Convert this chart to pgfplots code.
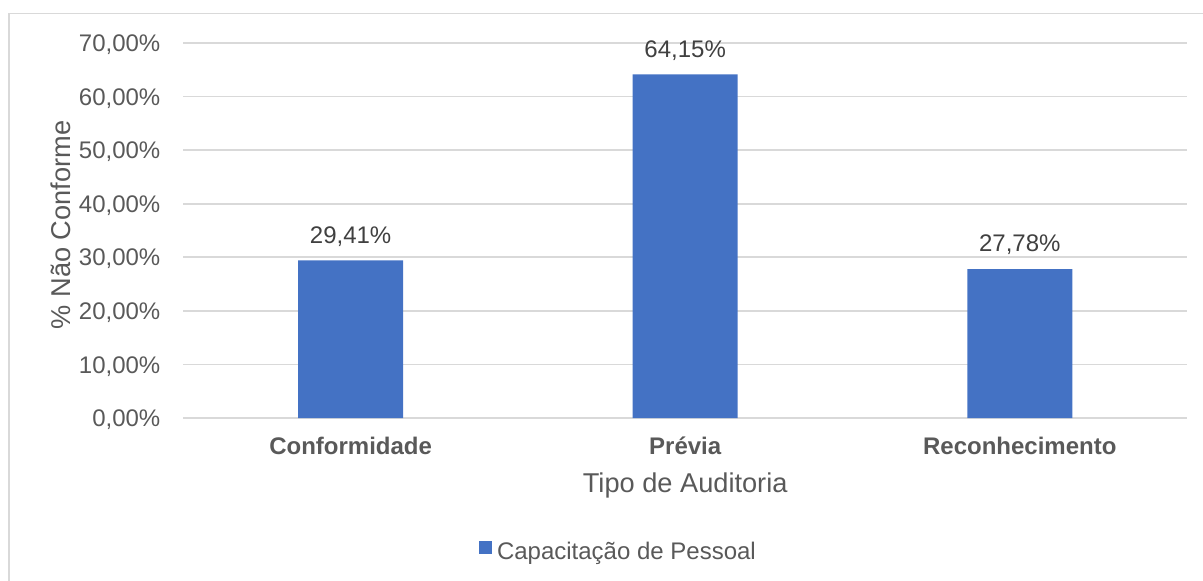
\documentclass[border=0pt]{standalone}
\usepackage{pgfplots}
\pgfplotsset{compat=1.18}
\usepackage{fontspec}
\setmainfont{Liberation Sans}
\definecolor{barblue}{HTML}{4472C4}
\definecolor{gridgray}{HTML}{D9D9D9}
\definecolor{txtgray}{HTML}{595959}
\definecolor{lblgray}{HTML}{404040}

\begin{document}
\begin{tikzpicture}
% chart frame
\draw[gridgray, line width=0.75pt] (4.6pt,283.15pt) rectangle (640pt,-30pt);
\begin{axis}[
  at={(91.67pt,81pt)}, anchor=south west,
  scale only axis, width=501.85pt, height=187.5pt,
  xmin=0, xmax=3, ymin=0, ymax=70,
  xtick={0.5,1.5,2.5},
  xticklabels={Conformidade,Prévia,Reconhecimento},
  ytick={0,10,...,70},
  axis line style={draw=none},
  major tick length=0pt,
  ymajorgrids,
  grid style={gridgray, line width=0.8pt},
  yticklabel={\pgfmathprintnumber[fixed,fixed zerofill,precision=2,use comma,assume math mode=true]{\tick}\%},
  yticklabel style={anchor=base east, inner sep=0pt, xshift=-11.3pt, yshift=-4.3pt,
    font=\fontsize{12pt}{14pt}\selectfont, text=txtgray},
  xticklabel style={anchor=base, inner sep=0pt, yshift=-18pt,
    font=\fontsize{12pt}{14pt}\selectfont\bfseries, text=txtgray},
  ylabel={\% Não Conforme},
  ylabel style={at={(axis description cs:-0.1129,0.5147)}, anchor=base, inner sep=0pt,
    font=\fontsize{13.6pt}{16pt}\selectfont, text=txtgray},
  xlabel={Tipo de Auditoria},
  xlabel style={at={(axis description cs:0.5,0)}, anchor=base, inner sep=0pt, yshift=-37pt,
    font=\fontsize{13.6pt}{16pt}\selectfont, text=txtgray},
  ybar, bar width=52.5pt,
  nodes near coords={\pgfmathprintnumber[fixed,fixed zerofill,precision=2,use comma,assume math mode=true]{\pgfplotspointmeta}\%},
  nodes near coords style={anchor=base, inner sep=0pt, yshift=8.6pt,
    font=\fontsize{12pt}{14pt}\selectfont, text=lblgray},
  legend image code/.code={\fill[#1] (0pt,-0.6pt) rectangle (6.2pt,5.6pt);},
  legend style={at={(axis description cs:0.2946,-0.3573)}, anchor=west,
    draw=none, fill=none, inner sep=0pt,
    font=\fontsize{12pt}{14pt}\selectfont, text=txtgray,
    nodes={inner sep=0pt},
    /tikz/every odd column/.append style={column sep=2.6pt}},
]
\addplot[fill=barblue, draw=none] coordinates {(0.5,29.41) (1.5,64.15) (2.5,27.78)};
\addlegendentry{Capacitação de Pessoal}
\end{axis}
\pgfresetboundingbox
\useasboundingbox (0,0) rectangle (601.5pt,290pt);
\end{tikzpicture}
\end{document}
